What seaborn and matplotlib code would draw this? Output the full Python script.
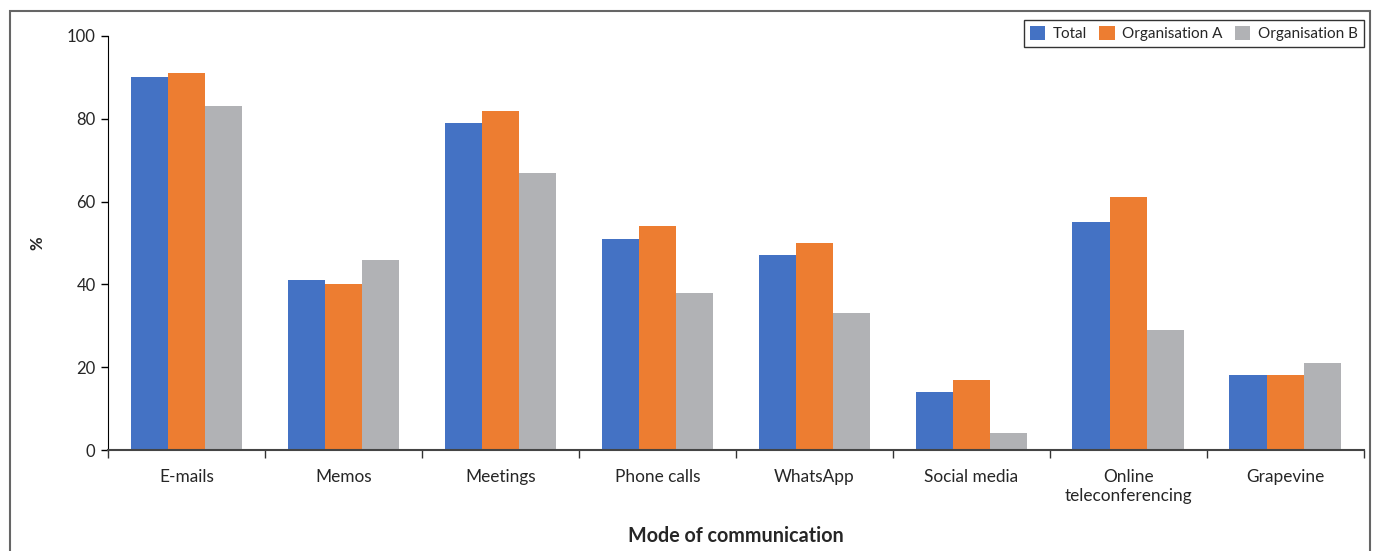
import numpy as np
import pandas as pd
import matplotlib.pyplot as plt
import seaborn as sns
from matplotlib.patches import Rectangle

categories = ['E-mails', 'Memos', 'Meetings', 'Phone calls', 'WhatsApp',
              'Social media', 'Online\nteleconferencing', 'Grapevine']
total = [90, 41, 79, 51, 47, 14, 55, 18]
org_a = [91, 40, 82, 54, 50, 17, 61, 18]
org_b = [83, 46, 67, 38, 33, 4, 29, 21]
series = ['Total', 'Organisation A', 'Organisation B']
colors = ['#4472C4', '#ED7D31', '#B1B2B5']

df = pd.DataFrame({'Mode': categories * 3,
                   'Group': np.repeat(series, len(categories)),
                   'Value': total + org_a + org_b})

sns.set_style('white')
plt.rcParams['font.family'] = ['Lato', 'DejaVu Sans']

fig = plt.figure(figsize=(13.76, 5.51), dpi=100)
ax = fig.add_axes([0.0785, 0.1833, 0.9125, 0.7514])

sns.barplot(data=df, x='Mode', y='Value', hue='Group', palette=colors,
            width=0.71, saturation=1, ax=ax, edgecolor='none')

ax.set_xlim(-0.5, len(categories) - 0.5)
ax.set_ylim(0, 100)
ax.set_yticks(range(0, 101, 20))
ax.tick_params(axis='y', labelsize=12, length=5, width=1, direction='out',
               left=True, color='black', pad=4)
ax.tick_params(axis='x', which='major', length=0, labelsize=12.4, pad=14)
ax.set_xticks(np.arange(-0.5, len(categories), 1), minor=True)
ax.tick_params(axis='x', which='minor', length=6, width=1, bottom=True, color='#333333')

for side in ['top', 'right']:
    ax.spines[side].set_visible(False)
ax.spines['left'].set_color('black')
ax.spines['bottom'].set_color('#444444')
ax.spines['bottom'].set_linewidth(1.5)

ax.set_ylabel('%', fontsize=12, fontweight='bold')
ax.yaxis.set_label_coords(-0.05, 0.5)
ax.set_xlabel('Mode of communication', fontsize=14.2, fontweight='bold', labelpad=16)

leg = ax.legend(loc='upper right', bbox_to_anchor=(0.9913, 0.9637),
                bbox_transform=fig.transFigure, ncol=3, frameon=True,
                fontsize=11, handlelength=1.0, handleheight=1.0,
                columnspacing=0.8, handletextpad=0.5, borderpad=0.4,
                borderaxespad=0, fancybox=False, title=None)
leg.get_frame().set_edgecolor('black')
leg.get_frame().set_linewidth(1)

fig.patches.append(Rectangle((10 / 1376, -0.1), 1360 / 1376, 1.08,
                             transform=fig.transFigure, fill=False,
                             edgecolor='#666666', linewidth=1.5))

fig.savefig('out.png', dpi=100)
